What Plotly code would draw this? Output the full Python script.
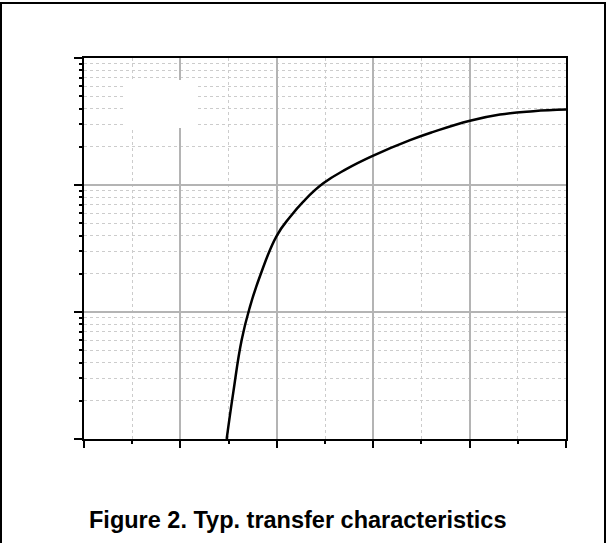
import plotly.graph_objects as go

# Transfer characteristic: gate voltage (V) vs drain current (A), log y
vgs = [1.480, 1.549, 1.636, 1.722, 1.826, 1.999, 2.137, 2.275, 2.482, 2.725,
       3.001, 3.382, 3.623, 4.004, 4.315, 4.661, 5.0]
id_a = [0.100, 0.234, 0.605, 1.103, 1.920, 3.980, 5.600, 7.405, 10.30, 13.38,
        17.02, 22.53, 26.18, 32.06, 35.90, 38.13, 39.26]

x_range = [0, 5]
y_log_range = [-1, 2]
title_text = "Figure 2. Typ. transfer characteristics"

L, R, T, B = 84, 42, 58, 104
W, H = 608, 543
pw, ph = W - L - R, H - T - B

def px(xp):
    return (xp - L) / pw

def py(yp):
    return (H - B - yp) / ph

fig = go.Figure()
fig.add_trace(go.Scatter(x=vgs, y=id_a, mode="lines",
                         line=dict(color="black", width=2.5, shape="spline", smoothing=1.3),
                         showlegend=False, hoverinfo="skip"))

fig.update_layout(
    width=W, height=H,
    margin=dict(l=L, r=R, t=T, b=B),
    paper_bgcolor="white", plot_bgcolor="white",
    showlegend=False,
)

fig.update_xaxes(
    range=x_range, dtick=1, showticklabels=False,
    showline=True, linecolor="black", linewidth=2, mirror=True,
    ticks="outside", ticklen=7, tickwidth=1.5, tickcolor="black",
    showgrid=True, gridcolor="#b4b4b4", gridwidth=1.5,
    zeroline=False,
    minor=dict(dtick=0.5, ticks="outside", ticklen=3, tickwidth=1.5, tickcolor="black",
               showgrid=True, gridcolor="#cccccc", gridwidth=1, griddash="dot"),
)
fig.update_yaxes(
    type="log", range=y_log_range, dtick=1, showticklabels=False,
    showline=True, linecolor="black", linewidth=2, mirror=True,
    ticks="outside", ticklen=8, tickwidth=1.5, tickcolor="black",
    showgrid=True, gridcolor="#b4b4b4", gridwidth=1.5,
    zeroline=False,
    minor=dict(dtick="D1", ticks="outside", ticklen=3, tickwidth=1.5, tickcolor="black",
               showgrid=True, gridcolor="#cccccc", gridwidth=1, griddash="dot"),
)

# erased label patch
fig.add_shape(type="rect", xref="paper", yref="paper",
              x0=px(126), x1=px(198), y0=py(128), y1=py(80),
              fillcolor="white", line=dict(width=0), layer="above")

# outer frame
fig.add_shape(type="rect", xref="paper", yref="paper",
              x0=px(1), x1=px(605), y0=py(560), y1=py(3),
              line=dict(color="black", width=2), fillcolor="rgba(0,0,0,0)", layer="above")

fig.add_annotation(text="<b>" + title_text + "</b>", xref="paper", yref="paper",
                   x=px(298), y=py(520), xanchor="center", yanchor="middle",
                   showarrow=False,
                   font=dict(family="Liberation Sans, Arial, sans-serif", size=23.5, color="black"))

fig.write_html("out.html", config={"displayModeBar": False},
               post_script="document.body.style.margin='0px';document.body.style.overflow='hidden';")
